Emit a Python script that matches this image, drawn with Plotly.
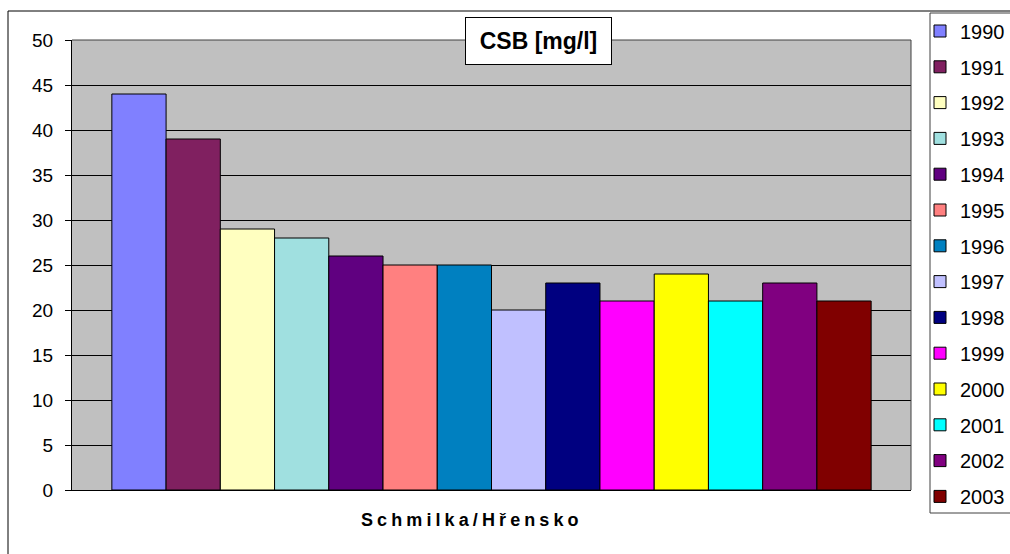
import plotly.graph_objects as go

categories = ["Schmilka/Hřensko"]
years = ["1990", "1991", "1992", "1993", "1994", "1995", "1996",
         "1997", "1998", "1999", "2000", "2001", "2002", "2003"]
values = [44, 39, 29, 28, 26, 25, 25, 20, 23, 21, 24, 21, 23, 21]
colors = ["#8080FF", "#802060", "#FFFFC0", "#A0E0E0", "#600080", "#FF8080",
          "#0080C0", "#C0C0FF", "#000080", "#FF00FF", "#FFFF00", "#00FFFF",
          "#800080", "#800000"]
y_ticks = [0, 5, 10, 15, 20, 25, 30, 35, 40, 45, 50]

L, R, T, B = 72, 911, 40, 490
W, H = 1010, 554

def px(x):
    return (x - L) / (R - L)

def py(y):
    return (B - y) / (B - T)

LEG_FONT = 20
item_h = LEG_FONT * 1.3 + 3
spacing = 35.8
gap = spacing - item_h
first_center = 31
top1 = first_center - (item_h / 2 + 5)
top2 = top1 + 7 * spacing

fig = go.Figure()
for i, (yr, v, c) in enumerate(zip(years, values, colors)):
    fig.add_trace(go.Bar(
        x=categories, y=[v], name=yr,
        marker=dict(color=c, line=dict(color="black", width=1)),
        legendgroup=yr,
        legend="legend" if i < 7 else "legend2",
    ))

leg_common = dict(
    xanchor="left", yanchor="top",
    traceorder="grouped", tracegroupgap=gap,
    font=dict(size=LEG_FONT, color="black"),
    bgcolor="rgba(0,0,0,0)", borderwidth=0,
    itemwidth=30,
)

fig.update_layout(
    width=W, height=H,
    margin=dict(l=L, r=W - R, t=T, b=H - B, pad=0, autoexpand=False),
    paper_bgcolor="white",
    plot_bgcolor="#C0C0C0",
    barmode="group",
    bargap=0.095,
    bargroupgap=0,
    font=dict(family="Liberation Sans, Arial, sans-serif", size=19, color="black"),
    showlegend=True,
    legend=dict(x=px(920), y=py(top1), **leg_common),
    legend2=dict(x=px(920), y=py(top2), **leg_common),
    xaxis=dict(
        showline=True, linecolor="black", linewidth=1,
        ticks="", showticklabels=False,
        showgrid=False, zeroline=False,
    ),
    yaxis=dict(
        range=[0, 50], tickvals=y_ticks,
        showline=True, linecolor="black", linewidth=1,
        ticks="outside", ticklen=6, tickcolor="black",
        showgrid=True, gridcolor="black", gridwidth=1,
        zeroline=False, tickfont=dict(size=19),
        ticklabelstandoff=8,
    ),
    shapes=[
        dict(type="rect", xref="paper", yref="paper",
             x0=px(8), y0=py(600), x1=px(1100), y1=py(11),
             line=dict(color="black", width=1), fillcolor="rgba(0,0,0,0)",
             layer="below"),
        dict(type="line", xref="paper", yref="paper",
             x0=0, y0=1, x1=1, y1=1, line=dict(color="#404040", width=1)),
        dict(type="line", xref="paper", yref="paper",
             x0=1, y0=0, x1=1, y1=1, line=dict(color="#404040", width=1)),
        dict(type="rect", xref="paper", yref="paper",
             x0=px(930), y0=py(513), x1=px(1100), y1=py(13),
             line=dict(color="#404040", width=1), fillcolor="white",
             layer="below"),
    ],
    annotations=[
        dict(text="<b>CSB [mg/l]</b>", xref="paper", yref="paper",
             x=px(538.5), y=py(41), xanchor="center", yanchor="middle",
             showarrow=False, font=dict(size=23, color="black"),
             bgcolor="white", bordercolor="black", borderwidth=1,
             width=143, height=44, borderpad=1),
        dict(text='<span style="letter-spacing:4.1px"><b>' + categories[0] + '</b></span>',
             xref="paper", yref="paper",
             x=px(472), y=py(520), xanchor="center", yanchor="middle",
             showarrow=False, font=dict(size=18, color="black")),
    ],
)

fig.write_html("out.html", config={"displayModeBar": False},
               post_script="document.body.style.margin='0';")
